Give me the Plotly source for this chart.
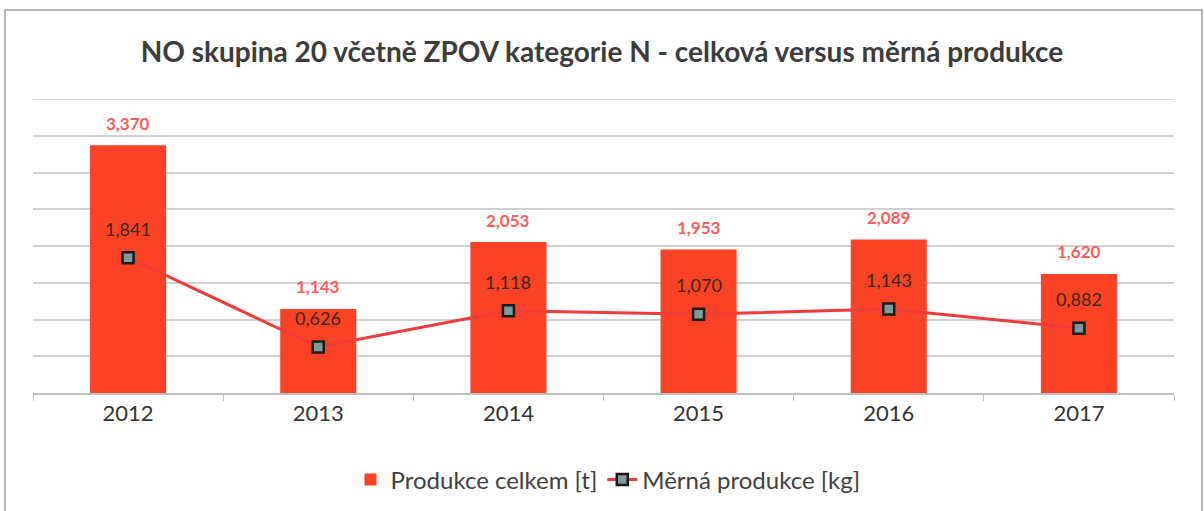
import plotly.graph_objects as go

years = ["2012", "2013", "2014", "2015", "2016", "2017"]
total = [3370, 1143, 2053, 1953, 2089, 1620]
total_labels = ["3,370", "1,143", "2,053", "1,953", "2,089", "1,620"]
specific = [1.841, 0.626, 1.118, 1.070, 1.143, 0.882]
specific_labels = ["1,841", "0,626", "1,118", "1,070", "1,143", "0,882"]

FONT = "Lato"
W, H = 1204, 511
L, R, T, B = 33, 30, 99, 118
PW, PH = W - L - R, H - T - B

fig = go.Figure()
fig.add_trace(go.Bar(
    x=years, y=total, name="Produkce celkem [t]",
    marker=dict(color="#fb4224", line=dict(width=0)), width=0.4,
))
fig.add_trace(go.Scatter(
    x=years, y=specific, name="Měrná produkce [kg]", yaxis="y2",
    mode="lines+markers",
    line=dict(color="#ee3b3b", width=3),
    marker=dict(symbol="square", size=11, color="#7f9a9a",
                line=dict(color="#1a1a1a", width=2.5)),
))

annotations = []
for i, (v, t) in enumerate(zip(total, total_labels)):
    annotations.append(dict(x=i, y=v, xref="x", yref="y", text=t, showarrow=False,
                            yshift=22, font=dict(family=FONT, size=17, color="#ff5c5c", weight="bold")))
for i, (v, t) in enumerate(zip(specific, specific_labels)):
    annotations.append(dict(x=i, y=v, xref="x", yref="y2", text=t, showarrow=False,
                            yshift=29, font=dict(family=FONT, size=18, color="#3a2620")))

fig.update_layout(
    width=W, height=H,
    margin=dict(l=L, r=R, t=T, b=B),
    paper_bgcolor="white", plot_bgcolor="white",
    font=dict(family=FONT, color="#404040"),
    title=dict(text="<b>NO skupina 20 včetně ZPOV kategorie N - celková versus měrná produkce</b>",
               x=0.5, xanchor="center", y=1 - 52/H, yanchor="middle", yref="container",
               font=dict(family=FONT, size=28, color="#3c3c3c")),
    xaxis=dict(type="category", range=[-0.5, len(years) - 0.5], showgrid=False, showline=True,
               linecolor="#bfbfbf", linewidth=1.5,
               ticks="outside", tickson="boundaries", ticklen=6, tickcolor="#bfbfbf",
               tickfont=dict(family=FONT, size=22, color="#333333")),
    yaxis=dict(range=[0, 4000], dtick=500, showgrid=True, gridcolor="#d0d0d0", gridwidth=1.5,
               showticklabels=False, zeroline=False, showline=False),
    yaxis2=dict(range=[0, 4], overlaying="y", side="right", showgrid=False,
                showticklabels=False, zeroline=False, showline=False),
    showlegend=True,
    legend=dict(orientation="h", x=0.505, xanchor="center", xref="container",
                y=1 - 480/H, yanchor="middle", yref="container",
                font=dict(family=FONT, size=24, color="#404040"), traceorder="normal"),
    annotations=annotations,
    shapes=[
        dict(type="line", xref="paper", yref="y", x0=0, x1=1, y0=4000, y1=4000,
             line=dict(color="#d0d0d0", width=1.5), layer="below"),
        dict(type="rect", xref="paper", yref="paper",
             x0=(5 - L)/PW, x1=(1202 - L)/PW, y0=(B - 520)/PH, y1=1 + (T - 10)/PH,
             line=dict(color="#a0a0a0", width=1.5), fillcolor="rgba(0,0,0,0)"),
    ],
)

fig.write_html("out.html", config={"displayModeBar": False},
               post_script="document.body.style.margin='0';")
